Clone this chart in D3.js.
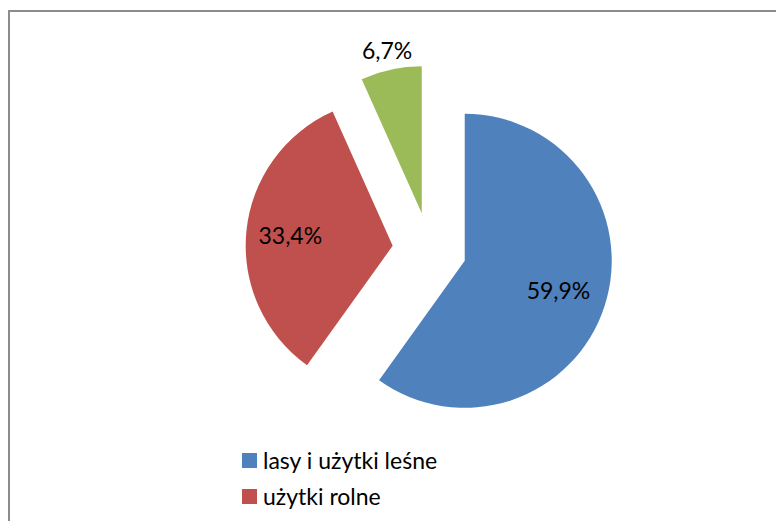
<!DOCTYPE html>
<html>
<head>
<meta charset="utf-8">
<script src="https://cdn.jsdelivr.net/npm/d3@7"></script>
<style>
  html, body { margin: 0; padding: 0; background: #fff; overflow: hidden; }
  svg { display: block; }
</style>
</head>
<body>
<svg id="chart" width="776" height="521"></svg>
<script>
// ---- data ----
const categories = ["lasy i użytki leśne", "użytki rolne", "pozostałe"];
const values = [59.9, 33.4, 6.7];
const valueLabels = ["59,9%", "33,4%", "6,7%"];
const colors = ["#4F81BD", "#C0504D", "#9BBB59"];

// ---- layout ----
const W = 776, H = 521;
const cx = 429.5, cy = 249.5, R = 147, explode = 37;
const labelFactor = [0.67, 0.70, 1.13];
const legendRowH = 36;
const svg = d3.select("#chart");

// frame
svg.append("rect")
  .attr("x", 9).attr("y", 11)
  .attr("width", 1000).attr("height", 800)
  .attr("fill", "none").attr("stroke", "#8c8c8c").attr("stroke-width", 2);

const pie = d3.pie().sort(null).value(d => d)(values);
const arc = d3.arc().innerRadius(0).outerRadius(R);

const g = svg.append("g").attr("transform", `translate(${cx},${cy})`);
const slices = g.selectAll("g.slice").data(pie).enter().append("g")
  .attr("class", "slice")
  .attr("transform", d => {
    const a = (d.startAngle + d.endAngle) / 2;
    return `translate(${Math.sin(a) * explode},${-Math.cos(a) * explode})`;
  });
slices.append("path")
  .attr("d", arc)
  .attr("fill", (d, i) => colors[i]);

slices.append("text")
  .attr("x", (d, i) => Math.sin((d.startAngle + d.endAngle) / 2) * R * labelFactor[i])
  .attr("y", (d, i) => -Math.cos((d.startAngle + d.endAngle) / 2) * R * labelFactor[i])
  .attr("dy", "0.35em")
  .attr("text-anchor", "middle")
  .attr("font-family", "Lato, 'Open Sans', sans-serif")
  .attr("font-size", 23)
  .attr("fill", "#000")
  .text((d, i) => valueLabels[i]);

// legend (the chart area clips the legend after its second row)
const legendTop = 453;
const visibleLegend = categories.filter((d, i) => legendTop + i * legendRowH + 20 <= H);
const legend = svg.append("g").attr("transform", `translate(242,${legendTop})`);
const items = legend.selectAll("g").data(visibleLegend).enter().append("g")
  .attr("transform", (d, i) => `translate(0,${i * legendRowH})`);
items.append("rect").attr("width", 15).attr("height", 15).attr("fill", (d, i) => colors[i]);
items.append("text")
  .attr("x", 21).attr("y", 16)
  .attr("font-family", "Lato, 'Open Sans', sans-serif")
  .attr("font-size", 23)
  .attr("fill", "#000")
  .text(d => d);
</script>
</body>
</html>
